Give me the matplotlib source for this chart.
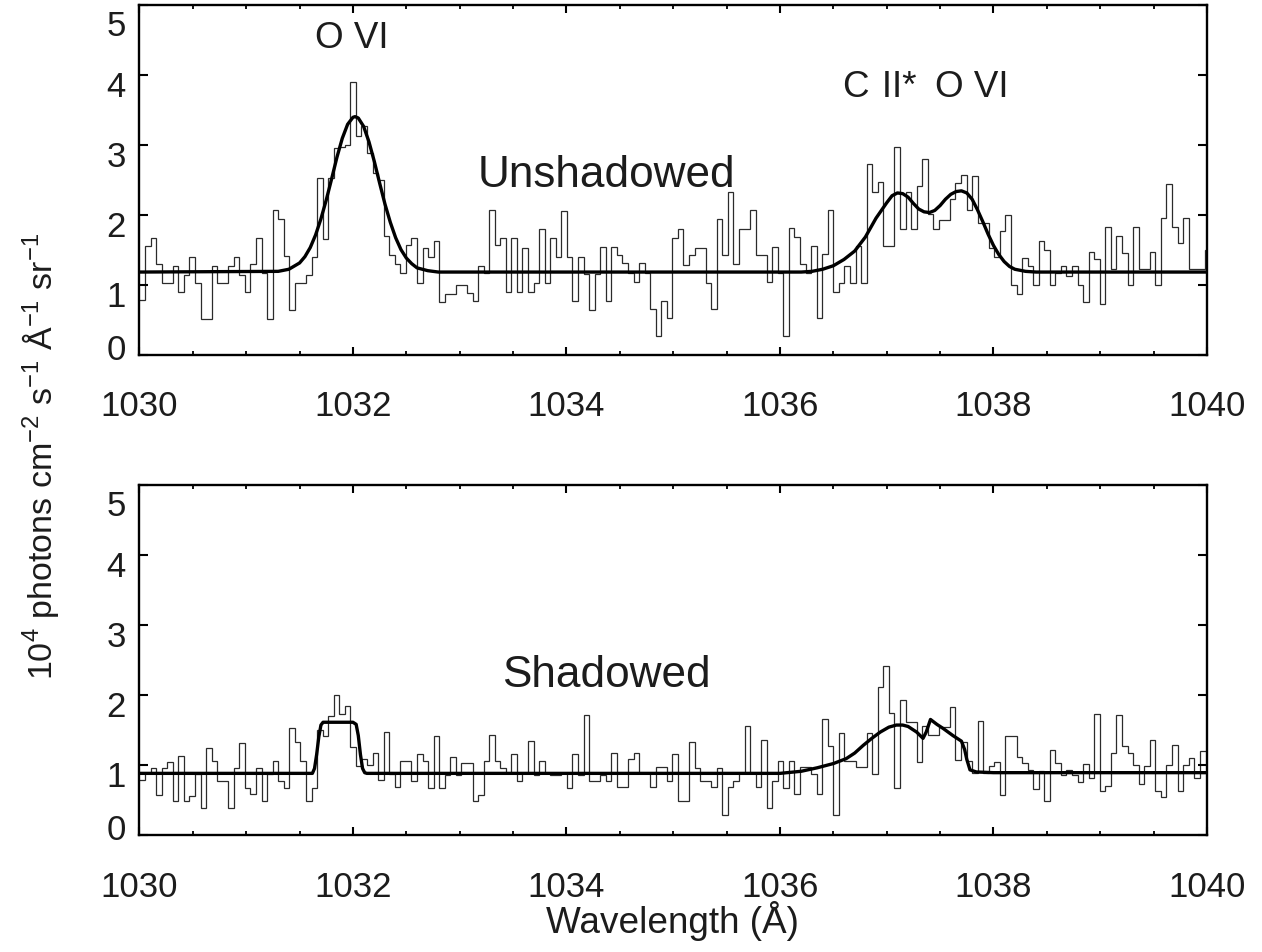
import matplotlib

matplotlib.use("Agg")
import matplotlib.pyplot as plt
import matplotlib.transforms as mtransforms
import numpy as np
from matplotlib.ticker import FixedLocator, MultipleLocator

# spectrum binning (regular 0.052 A bins starting at 1030 A)
BIN_START = 1030.0
BIN_WIDTH = 0.052

# unshadowed spectrum, one value per bin (10^4 photons cm^-2 s^-1 A^-1 sr^-1)
unshadowed_flux = [
    0.78, 1.55, 1.67, 1.29, 1.02, 1.02, 1.27, 0.89, 1.14, 1.40,
    1.02, 0.51, 0.51, 1.27, 1.02, 1.02, 1.27, 1.40, 1.14, 0.89,
    1.29, 1.67, 1.17, 0.51, 2.06, 1.94, 1.41, 0.64, 1.02, 1.02,
    1.14, 1.40, 2.52, 1.65, 2.53, 2.95, 2.96, 2.99, 3.89, 3.13,
    3.26, 2.88, 2.60, 2.49, 1.69, 1.42, 1.29, 1.17, 1.56, 1.67,
    1.02, 1.53, 1.39, 1.63, 0.75, 0.87, 0.87, 1.00, 1.00, 0.88,
    0.76, 1.27, 1.17, 2.06, 1.56, 1.67, 0.90, 1.67, 0.90, 1.53,
    0.89, 1.02, 1.80, 1.02, 1.66, 1.40, 2.05, 1.40, 0.77, 1.40,
    1.15, 0.64, 1.15, 1.54, 0.77, 1.54, 1.43, 1.31, 1.17, 1.04,
    1.31, 1.17, 0.65, 0.26, 0.77, 0.52, 1.66, 1.80, 1.28, 1.42,
    1.53, 1.53, 1.03, 0.65, 1.94, 1.42, 2.33, 1.29, 1.80, 1.80,
    2.06, 1.42, 1.42, 1.04, 1.54, 1.17, 0.26, 1.81, 1.68, 1.29,
    1.17, 1.55, 0.52, 1.44, 2.06, 0.90, 1.03, 1.27, 1.03, 1.55,
    1.03, 2.72, 2.33, 2.46, 1.55, 1.55, 2.97, 1.80, 2.33, 1.80,
    2.41, 2.80, 2.01, 1.80, 1.93, 1.93, 2.23, 2.45, 2.57, 2.06,
    2.55, 1.88, 1.88, 1.52, 1.39, 1.77, 2.00, 1.00, 0.87, 1.38,
    1.27, 1.00, 1.62, 1.50, 1.00, 1.17, 1.26, 1.13, 1.26, 1.00,
    0.75, 1.46, 1.36, 0.73, 1.83, 1.22, 1.70, 1.45, 0.99, 1.82,
    1.22, 1.22, 1.46, 0.99, 1.95, 2.44, 1.82, 1.59, 1.95, 1.22,
    1.22, 1.23, 1.49,
]

# shadowed spectrum, same bins
shadowed_flux = [
    0.78, 0.89, 0.95, 0.57, 0.95, 1.04, 0.48, 1.13, 0.48, 0.56,
    0.87, 0.38, 1.24, 1.05, 0.77, 0.77, 0.38, 0.95, 1.32, 0.67,
    0.58, 0.96, 0.48, 0.87, 1.05, 0.77, 0.67, 1.53, 1.33, 1.05,
    0.48, 0.67, 1.50, 1.42, 1.70, 2.00, 1.73, 1.84, 1.26, 0.99,
    1.08, 1.00, 1.17, 0.79, 1.47, 0.87, 0.68, 1.06, 1.06, 0.77,
    1.15, 1.05, 0.67, 1.41, 0.67, 0.85, 1.12, 0.85, 1.03, 1.03,
    0.48, 0.57, 1.05, 1.43, 1.05, 0.96, 0.89, 1.15, 0.77, 0.89,
    1.34, 0.86, 1.05, 0.89, 0.86, 0.86, 0.89, 0.67, 1.15, 0.86,
    1.72, 0.77, 0.77, 0.86, 0.77, 1.17, 0.69, 0.69, 1.09, 1.17,
    0.89, 0.89, 0.69, 0.97, 0.97, 0.77, 1.16, 0.48, 0.48, 1.33,
    0.96, 0.77, 0.77, 0.68, 0.96, 0.29, 0.68, 0.77, 0.89, 1.55,
    0.89, 0.68, 1.35, 0.39, 0.77, 1.06, 0.67, 1.06, 0.59, 0.97,
    0.97, 0.87, 0.59, 1.65, 1.27, 0.29, 1.45, 1.06, 1.06, 0.97,
    0.97, 1.45, 0.87, 2.12, 2.42, 1.74, 0.67, 1.93, 1.61, 1.61,
    1.04, 1.55, 1.43, 1.43, 1.54, 1.54, 1.83, 1.07, 1.33, 1.05,
    0.88, 1.63, 0.88, 0.98, 1.04, 0.57, 1.41, 1.41, 1.12, 1.03,
    0.93, 0.65, 0.92, 0.48, 1.21, 1.03, 0.86, 0.93, 0.86, 0.75,
    1.02, 0.82, 1.73, 0.63, 0.70, 1.17, 1.71, 1.27, 1.17, 1.00,
    0.73, 0.99, 1.36, 0.63, 0.54, 1.00, 1.28, 0.63, 1.00, 1.10,
    0.82, 1.20, 1.20,
]

# model fit curves
unshadowed_fit_wave = [
    1030.0, 1031.3, 1031.4, 1031.5, 1031.55, 1031.6, 1031.65, 1031.7, 1031.75,
    1031.8, 1031.85, 1031.9, 1031.95, 1032.0, 1032.02, 1032.05, 1032.1, 1032.15,
    1032.2, 1032.25, 1032.3, 1032.35, 1032.4, 1032.45, 1032.5, 1032.55, 1032.6,
    1032.7, 1032.8, 1036.2, 1036.3, 1036.4, 1036.5, 1036.6, 1036.7, 1036.8,
    1036.9, 1037.0, 1037.05, 1037.1, 1037.15, 1037.2, 1037.25, 1037.3, 1037.35,
    1037.4, 1037.45, 1037.5, 1037.55, 1037.6, 1037.65, 1037.7, 1037.75, 1037.8,
    1037.85, 1037.9, 1037.95, 1038.0, 1038.05, 1038.1, 1038.15, 1038.2, 1038.3,
    1038.4, 1040.0,
]
unshadowed_fit_flux = [
    1.18, 1.19, 1.22, 1.31, 1.40, 1.53, 1.71, 1.94, 2.21,
    2.51, 2.82, 3.09, 3.29, 3.39, 3.40, 3.38, 3.26, 3.04,
    2.76, 2.45, 2.15, 1.89, 1.67, 1.50, 1.38, 1.30, 1.24,
    1.20, 1.18, 1.18, 1.19, 1.22, 1.27, 1.36, 1.48, 1.68,
    1.95, 2.17, 2.27, 2.31, 2.30, 2.25, 2.16, 2.08, 2.04,
    2.03, 2.06, 2.13, 2.22, 2.29, 2.33, 2.34, 2.31, 2.22,
    2.07, 1.90, 1.72, 1.56, 1.43, 1.33, 1.26, 1.22, 1.19,
    1.18, 1.18,
]

shadowed_fit_wave = [
    1030.0, 1031.62, 1031.64, 1031.66, 1031.68, 1031.70, 1031.72, 1032.0,
    1032.03, 1032.05, 1032.07, 1032.09, 1032.11, 1032.13, 1036.0, 1036.2,
    1036.35, 1036.5, 1036.62, 1036.7, 1036.78, 1036.86, 1036.94, 1037.02,
    1037.09, 1037.15, 1037.2, 1037.28, 1037.34, 1037.37, 1037.41, 1037.47,
    1037.53, 1037.62, 1037.7, 1037.73, 1037.75, 1037.78, 1037.84, 1038.0,
    1040.0,
]
shadowed_fit_flux = [
    0.88, 0.88, 0.95, 1.15, 1.40, 1.57, 1.61, 1.61,
    1.58, 1.42, 1.15, 0.95, 0.89, 0.88, 0.88, 0.91,
    0.96, 1.02, 1.09, 1.17, 1.28, 1.38, 1.47, 1.54,
    1.57, 1.57, 1.55, 1.47, 1.38, 1.47, 1.65, 1.58,
    1.52, 1.42, 1.34, 1.22, 1.08, 0.93, 0.90, 0.89,
    0.89,
]

y_ticks = [0, 1, 2, 3, 4, 5]
# IDL-style vertical nudges of the y tick labels (points)
y_label_nudge = [3.7, -8.2, -8.2, -8.2, -8.2, -15.0]

TEXT_COLOR = "#1c1c1c"
FONT = "Liberation Sans"


def paper_style() -> None:
    plt.rcParams.update(
        {
            "font.family": [FONT, "DejaVu Sans"],
            "mathtext.fontset": "custom",
            "mathtext.rm": FONT,
            "mathtext.it": FONT,
            "mathtext.default": "regular",
            "text.color": TEXT_COLOR,
            "axes.linewidth": 1.7,
            "xtick.color": "black",
            "ytick.color": "black",
            "xtick.labelcolor": TEXT_COLOR,
            "ytick.labelcolor": TEXT_COLOR,
            "xtick.direction": "in",
            "ytick.direction": "in",
            "figure.facecolor": "white",
            "axes.facecolor": "white",
        }
    )


def style_axis(ax, fig) -> None:
    ax.set_xlim(1030, 1040)
    ax.set_ylim(0, 5)
    ax.xaxis.set_major_locator(MultipleLocator(2))
    ax.xaxis.set_minor_locator(MultipleLocator(0.5))
    ax.yaxis.set_major_locator(FixedLocator(y_ticks))
    ax.tick_params(axis="x", which="major", length=5.5, width=1.5, top=True, labelsize=25, pad=25)
    ax.tick_params(axis="x", which="minor", length=3.0, width=1.3, top=True)
    ax.tick_params(axis="y", which="major", length=6.7, width=1.5, right=True, labelsize=25, pad=10)
    ax.set_yticklabels([str(v) for v in y_ticks])
    for lab, dy in zip(ax.get_yticklabels(), y_label_nudge):
        shift = mtransforms.ScaledTranslation(0, dy / 72.0, fig.dpi_scale_trans)
        lab.set_transform(lab.get_transform() + shift)
        lab.set_verticalalignment("center")


def draw_panel(ax, fig, flux, fit_wave, fit_flux) -> None:
    edges = BIN_START + BIN_WIDTH * np.arange(len(flux) + 1)
    ax.stairs(flux, edges, baseline=None, color="#2b2b2b", linewidth=0.9)
    ax.plot(fit_wave, fit_flux, color="black", linewidth=2.4, solid_joinstyle="round")
    style_axis(ax, fig)


def main() -> int:
    paper_style()
    fig = plt.figure(figsize=(12.62, 9.53), dpi=100)
    left, width, height = 0.1105, 0.8459, 0.3673
    ax_top = fig.add_axes([left, 0.6268, width, height])
    ax_bot = fig.add_axes([left, 0.1228, width, height])

    draw_panel(ax_top, fig, unshadowed_flux, unshadowed_fit_wave, unshadowed_fit_flux)
    draw_panel(ax_bot, fig, shadowed_flux, shadowed_fit_wave, shadowed_fit_flux)

    ax_top.text(1031.99, 4.39, "O VI", fontsize=26.5, ha="center", va="baseline")
    ax_top.text(1036.935, 3.70, "C\u2004II*", fontsize=26.5, ha="center", va="baseline")
    ax_top.text(1037.795, 3.70, "O VI", fontsize=26.5, ha="center", va="baseline")
    ax_top.text(1034.37, 2.41, "Unshadowed", fontsize=31.8, ha="center", va="baseline")
    ax_bot.text(1034.37, 2.13, "Shadowed", fontsize=31.8, ha="center", va="baseline")

    fig.text(0.533, 20 / 953, "Wavelength (Å)", fontsize=26.6, ha="center", va="baseline")
    fig.text(
        51.7 / 1262,
        0.521,
        r"10$^4$ photons cm$^{-2}$ s$^{-1}$ Å$^{-1}$ sr$^{-1}$",
        fontsize=24.5,
        rotation=90,
        rotation_mode="anchor",
        ha="center",
        va="baseline",
    )

    fig.savefig("out.png", dpi=100)
    plt.close(fig)
    return 0


if __name__ == "__main__":
    raise SystemExit(main())
